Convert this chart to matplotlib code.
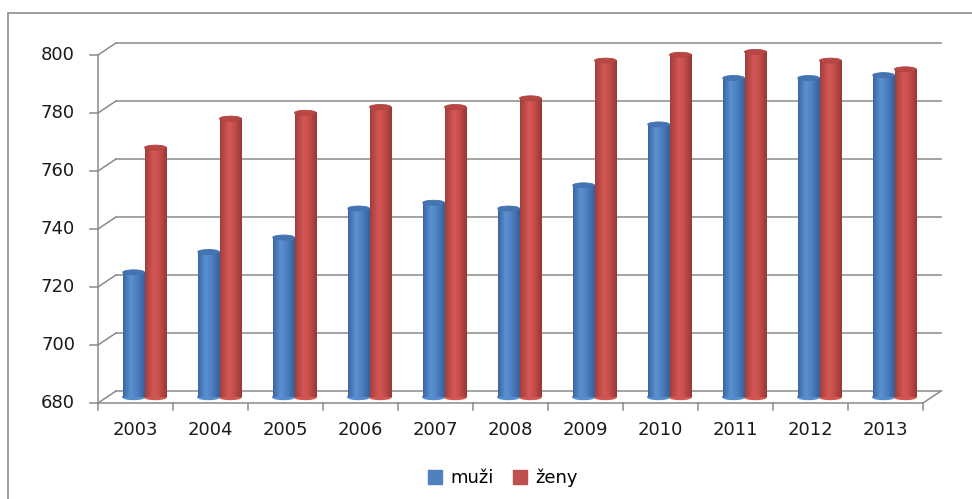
import numpy as np
import matplotlib
matplotlib.use("Agg")
import matplotlib.pyplot as plt
from matplotlib.patches import Ellipse, Patch, Rectangle
from matplotlib.lines import Line2D
from matplotlib.colors import LinearSegmentedColormap
from matplotlib.transforms import ScaledTranslation

years = ["2003", "2004", "2005", "2006", "2007", "2008",
         "2009", "2010", "2011", "2012", "2013"]
muzi = [723, 730, 735, 745, 747, 745, 753, 774, 790, 790, 791]
zeny = [766, 776, 778, 780, 780, 783, 796, 798, 799, 796, 793]
y_ticks = [680, 700, 720, 740, 760, 780, 800]

grid_col = "#8a8a8a"
n = len(years)
x0, x1 = -0.5, n - 0.5

fig = plt.figure(figsize=(9.72, 4.99), dpi=100)
ax = fig.add_axes([107 / 972, 102 / 499, 825 / 972, 348 / 499])
ax.axis("off")
ax.set_xlim(x0, x1)
ax.set_ylim(680, 800)
ax.set_autoscale_on(False)

# depth offsets for the fake 3D walls (in pixels)
back = ax.transData + ScaledTranslation(9 / 100, 6 / 100, fig.dpi_scale_trans)
front = ax.transData + ScaledTranslation(-9 / 100, -6 / 100, fig.dpi_scale_trans)
to_fig = fig.transFigure.inverted()


def fpos(tr, p):
    return to_fig.transform(tr.transform(p))


def fline(a, b):
    fig.add_artist(Line2D([a[0], b[0]], [a[1], b[1]], color=grid_col, lw=1.1))


# back wall gridlines + side diagonals
for v in y_ticks:
    ax.plot([x0, x1], [v, v], color=grid_col, lw=1.1, transform=back,
            zorder=1, clip_on=False)
    fline(fpos(front, (x0, v)), fpos(back, (x0, v)))
fline(fpos(front, (x1, 680)), fpos(back, (x1, 680)))

# front axis, floor edge, ticks and labels
fline(fpos(front, (x0, 680)), fpos(front, (x0, 800)))
fline(fpos(front, (x0, 680)), fpos(front, (x1, 680)))
for v in y_ticks:
    a = fpos(front, (x0, v))
    fline((a[0] - 8 / 972, a[1]), a)
    fig.text(a[0] - 23 / 972, a[1], str(v), ha="right", va="center",
             fontsize=13, color="#1a1a1a")
for i in range(n + 1):
    a = fpos(front, (x0 + i, 680))
    fline(a, (a[0], a[1] - 7 / 499))
for i, yr in enumerate(years):
    a = fpos(front, (i, 680))
    fig.text(a[0], a[1] - 27 / 499, yr, ha="center", va="center",
             fontsize=13, color="#1a1a1a")

# cylinder bars
blue_cm = LinearSegmentedColormap.from_list(
    "b", [(0, "#3a67a2"), (0.35, "#5b90d2"), (0.6, "#4f83c4"), (1, "#36609a")])
red_cm = LinearSegmentedColormap.from_list(
    "r", [(0, "#a23d3a"), (0.4, "#d45856"), (0.65, "#c44e4b"), (1, "#983734")])
grad = np.linspace(0, 1, 64)[None, :]
w = 0.29
ell_h = 1.7


def cylinder(xc, val, cmap, top_col):
    ax.add_patch(Ellipse((xc, 680), w, ell_h, color=cmap(0.45), zorder=2,
                         clip_on=False))
    ax.imshow(grad, cmap=cmap, extent=[xc - w / 2, xc + w / 2, 680, val],
              aspect="auto", zorder=3, interpolation="bilinear")
    ax.add_patch(Ellipse((xc, val), w, ell_h, facecolor=top_col,
                         edgecolor=cmap(0.1), lw=0.6, zorder=4, clip_on=False))


for i in range(n):
    cylinder(i - w / 2, muzi[i], blue_cm, "#4474b2")
    cylinder(i + w / 2, zeny[i], red_cm, "#b94643")

ax.set_xlim(x0, x1)
ax.set_ylim(680, 800)

# chart border (left and top visible)
fig.add_artist(Rectangle((8 / 972, -0.2), 1.2, 1.2 - 13 / 499,
                         transform=fig.transFigure, fill=False,
                         edgecolor="#8c8c8c", lw=1.2))

handles = [Patch(color="#4f81bd", label="muži"),
           Patch(color="#c0504d", label="ženy")]
fig.legend(handles=handles, loc="center", bbox_to_anchor=(503 / 972, 1 - 478 / 499),
           ncol=2, frameon=False, fontsize=13, handlelength=0.75,
           handleheight=0.75, handletextpad=0.45, columnspacing=1.1)

fig.savefig("out.png", dpi=100)
